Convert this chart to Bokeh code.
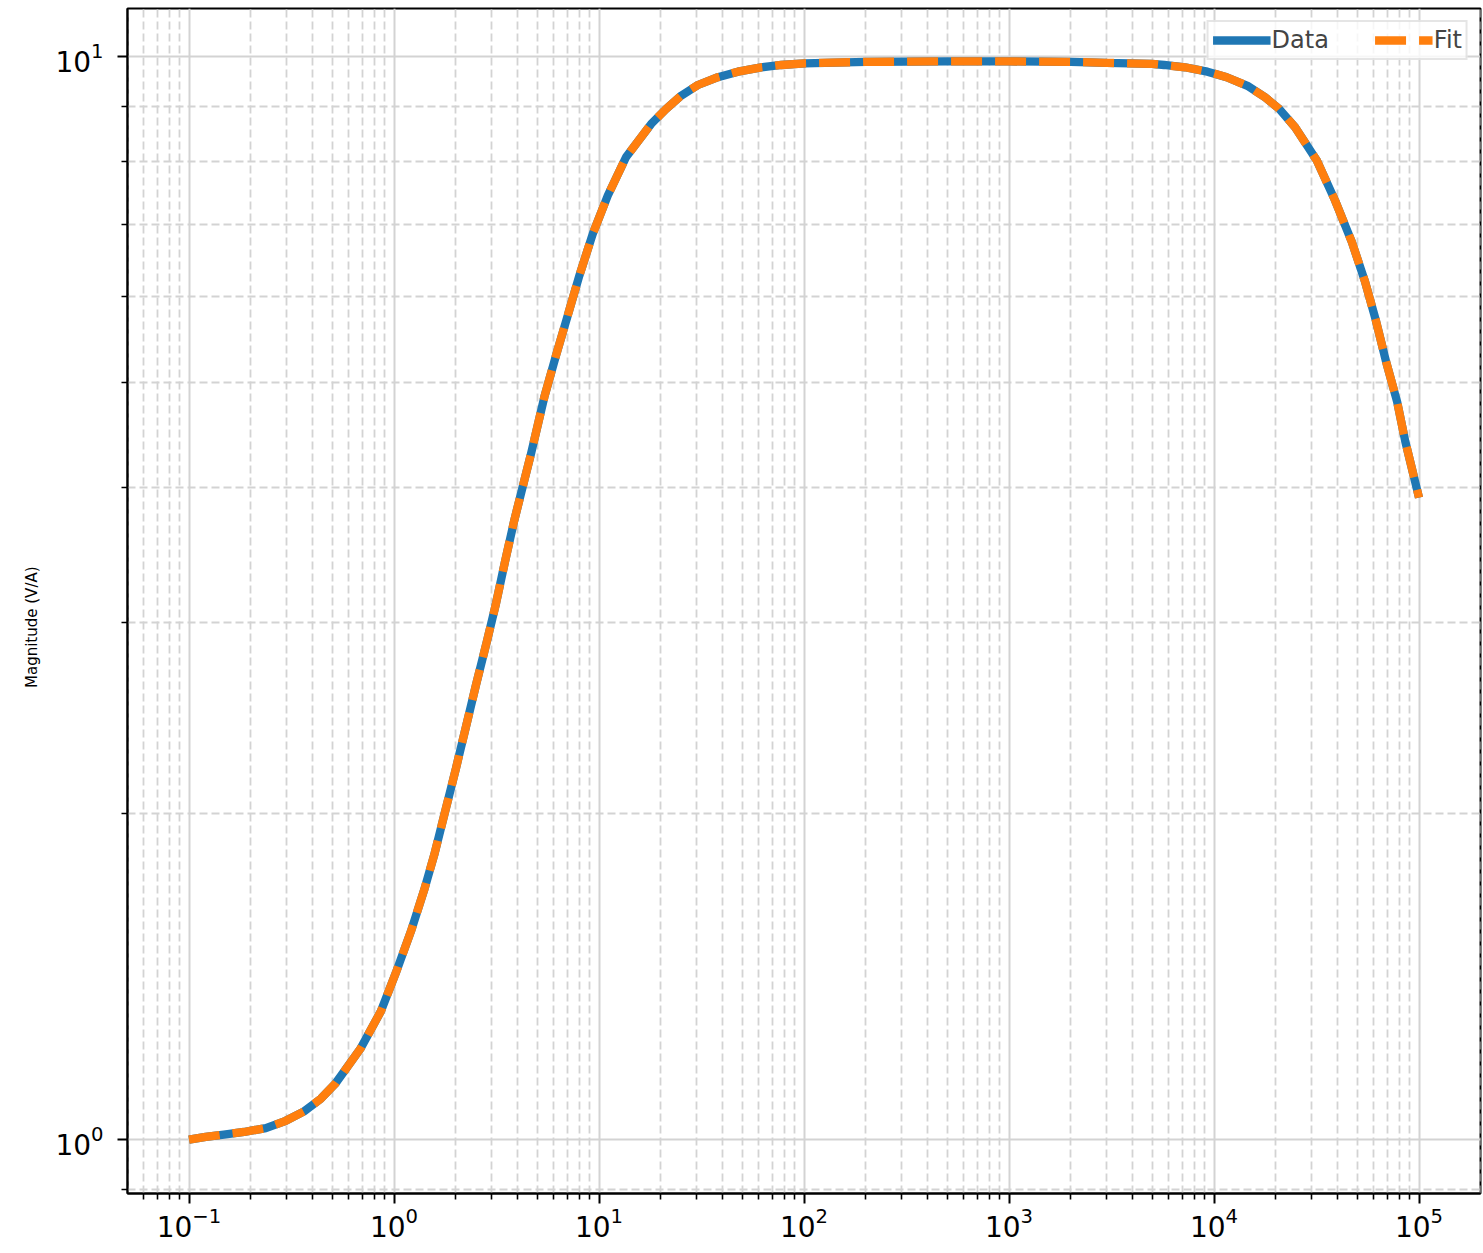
from bokeh.plotting import figure
from bokeh.models import FixedTicker, Range1d
from bokeh.embed import file_html
from bokeh.resources import INLINE

# Values
frequency = [0.1, 0.1207, 0.148, 0.1856, 0.237, 0.2965, 0.364, 0.4396, 0.520, 0.689,
             0.863, 1.02, 1.209, 1.404, 1.571, 1.792, 2.005, 2.244, 2.511, 2.810,
             3.145, 3.479, 3.863, 4.323, 4.634, 5.413, 6.172, 7.041, 8.025, 9.327,
             11.04, 13.56, 17.97, 21.27, 25.17, 30.37, 38.03, 47.62, 61.87, 77.45,
             100.7, 200, 500, 1000, 2000, 3000, 4963, 5710, 7216, 9286,
             11535, 14560, 17740, 20790, 24860, 31740, 38980, 47030, 54620, 61610,
             69140, 78270, 85790, 92330, 100000]
data_magnitude = [1.00, 1.006, 1.011, 1.0165, 1.025, 1.041, 1.062, 1.091, 1.128, 1.215,
                  1.314, 1.425, 1.557, 1.701, 1.832, 2.023, 2.202, 2.406, 2.629, 2.862,
                  3.127, 3.418, 3.733, 4.063, 4.28, 4.851, 5.300, 5.769, 6.281, 6.863,
                  7.443, 8.078, 8.668, 8.95, 9.205, 9.416, 9.573, 9.687, 9.777, 9.825,
                  9.861, 9.89, 9.90, 9.90, 9.89, 9.87, 9.85, 9.825, 9.777, 9.687,
                  9.573, 9.40, 9.174, 8.95, 8.608, 8.019, 7.364, 6.744, 6.193, 5.708,
                  5.226, 4.799, 4.410, 4.166, 3.916]
fit_magnitude = [1.00, 1.006, 1.011, 1.0165, 1.025, 1.041, 1.062, 1.091, 1.128, 1.215,
                 1.314, 1.425, 1.557, 1.701, 1.832, 2.023, 2.202, 2.406, 2.629, 2.862,
                 3.127, 3.418, 3.733, 4.063, 4.28, 4.851, 5.300, 5.769, 6.281, 6.863,
                 7.443, 8.078, 8.668, 8.95, 9.205, 9.416, 9.573, 9.687, 9.777, 9.825,
                 9.861, 9.89, 9.90, 9.90, 9.89, 9.87, 9.85, 9.825, 9.777, 9.687,
                 9.573, 9.40, 9.174, 8.95, 8.608, 8.019, 7.364, 6.744, 6.193, 5.708,
                 5.226, 4.799, 4.410, 4.166, 3.916]

x_major = [0.1, 1, 10, 100, 1000, 10000, 100000]
x_minor = [m * d for d in [0.01, 0.1, 1, 10, 100, 1000, 10000, 100000] for m in range(2, 10)]
y_major = [1, 10]
y_minor = [0.9, 2, 3, 4, 5, 6, 7, 8, 9]
y_label_text = "Magnitude (V/A)"

FONT = "DejaVu Sans"

p = figure(width=1482, height=1252, x_axis_type="log", y_axis_type="log",
           x_range=Range1d(10 ** -1.3, 10 ** 5.3),
           y_range=Range1d(10 ** -0.0497, 10 ** 1.0445),
           output_backend="svg", toolbar_location=None,
           min_border_left=127, min_border_right=2, min_border_top=8, min_border_bottom=59)

p.xaxis.ticker = FixedTicker(ticks=x_major, minor_ticks=x_minor)
p.yaxis.ticker = FixedTicker(ticks=y_major, minor_ticks=y_minor)

for ax in (p.xaxis, p.yaxis):
    ax.axis_line_width = 2
    ax.axis_line_color = "black"
    ax.major_tick_line_width = 2
    ax.minor_tick_line_width = 1.6
    ax.major_tick_out = 10
    ax.major_tick_in = 0
    ax.minor_tick_out = 6
    ax.minor_tick_in = 0
    ax.major_label_text_font = FONT
    ax.major_label_text_font_size = "28px"
    ax.major_label_text_color = "black"
p.xaxis.major_label_standoff = 3
p.yaxis.major_label_standoff = 14

# trailing no-break spaces shift the centred label a little lower (figure-centred in the reference)
p.yaxis.axis_label = y_label_text + "\u00a0" * 11
p.yaxis.axis_label_text_font = FONT
p.yaxis.axis_label_text_font_size = "15px"
p.yaxis.axis_label_text_font_style = "normal"
p.yaxis.axis_label_text_color = "black"
p.yaxis.axis_label_standoff = 11

for g in (p.xgrid, p.ygrid):
    g.grid_line_color = "#d3d3d3"
    g.grid_line_width = 2
    g.minor_grid_line_color = "#d3d3d3"
    g.minor_grid_line_width = 1.8
    g.minor_grid_line_dash = "8 4"

p.outline_line_color = "black"
p.outline_line_width = 2
p.outline_line_alpha = 1

p.line(frequency, data_magnitude, line_color="#1f77b4", line_width=8.3, legend_label="Data")
p.line(frequency, fit_magnitude, line_color="#ff7f0e", line_width=8.3, line_dash="31 13",
       legend_label="Fit")

lg = p.legend[0]
lg.location = "top_right"
lg.orientation = "horizontal"
lg.label_text_font = FONT
lg.label_text_font_size = "24px"
lg.glyph_width = 58
lg.glyph_height = 22
lg.label_height = 22
lg.label_standoff = 1
lg.spacing = 46
lg.padding = 4
lg.margin = 12
lg.border_line_color = "#cccccc"
lg.border_line_width = 2
lg.background_fill_alpha = 0.8

open("out.html", "w").write(file_html(p, INLINE))
